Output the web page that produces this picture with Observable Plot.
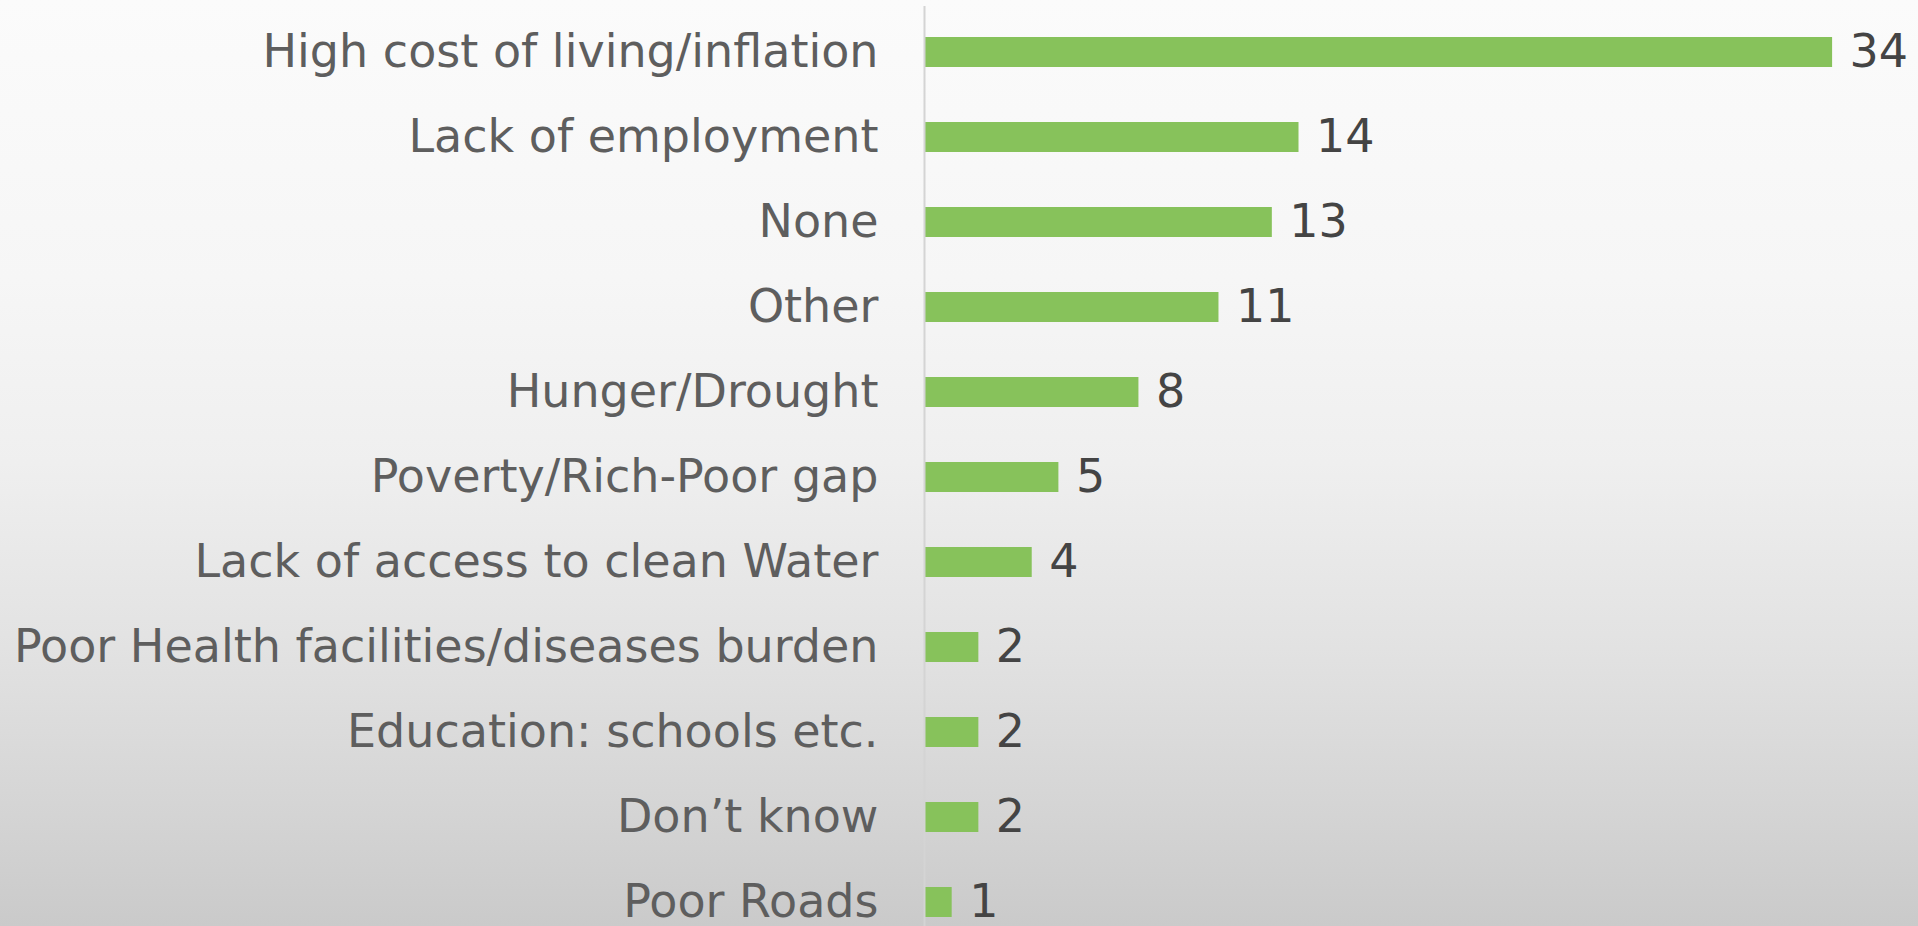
<!DOCTYPE html>
<html>
<head>
<meta charset="utf-8">
<script src="https://cdn.jsdelivr.net/npm/d3@7"></script>
<script src="https://cdn.jsdelivr.net/npm/@observablehq/plot@0.6"></script>
<style>
  html, body { margin: 0; padding: 0; width: 1918px; height: 926px; overflow: hidden; }
  body { background: linear-gradient(to bottom, #fbfbfb 0%, #f6f6f6 30%, #efefef 50%, #e2e2e2 70%, #d4d4d4 88%, #cacaca 100%); }
  #chart svg { display: block; background: transparent; }
</style>
</head>
<body>
<div id="chart"></div>
<script>
const categories = [
  "High cost of living/inflation",
  "Lack of employment",
  "None",
  "Other",
  "Hunger/Drought",
  "Poverty/Rich-Poor gap",
  "Lack of access to clean Water",
  "Poor Health facilities/diseases burden",
  "Education: schools etc.",
  "Don\u2019t know",
  "Poor Roads"
];
const values = [34, 14, 13, 11, 8, 5, 4, 2, 2, 2, 1];

const data = categories.map((c, i) => ({category: c, value: values[i]}));
const font = "'DejaVu Sans', sans-serif";

const chart = Plot.plot({
  width: 1918,
  height: 950,
  marginLeft: 925,
  marginRight: 0,
  marginTop: 6,
  marginBottom: 2,
  style: {background: "transparent", fontFamily: font},
  x: {domain: [0, 37.22], axis: null},
  y: {domain: categories, paddingInner: 0.65, paddingOuter: 0.325, label: null},
  marks: [
    Plot.barX(data, {x: "value", y: "category", fill: "#87c25b"}),
    Plot.ruleX([0], {stroke: "#d4d4d4", strokeWidth: 2, dx: -1}),
    Plot.axisY({tickSize: 0, tickPadding: 47, fontSize: 46, fill: "#5e5e5e", label: null}),
    Plot.text(data, {x: "value", y: "category", text: d => String(d.value), dx: 17, textAnchor: "start", fontSize: 46, fill: "#444444"})
  ]
});
document.getElementById("chart").appendChild(chart);
</script>
</body>
</html>
